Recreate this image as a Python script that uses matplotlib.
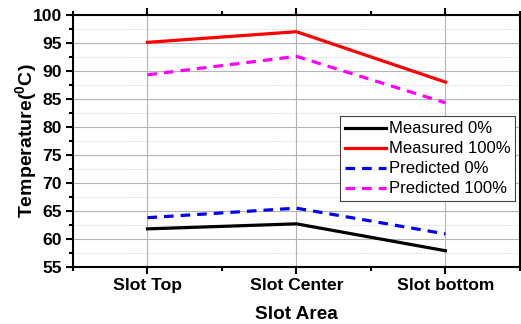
import matplotlib
matplotlib.use("Agg")
from matplotlib import pyplot as plt
from matplotlib.ticker import MultipleLocator

plt.rcParams['font.family'] = ['Liberation Sans', 'DejaVu Sans']
plt.rcParams['mathtext.fontset'] = 'custom'
plt.rcParams['mathtext.bf'] = 'Liberation Sans:bold'
plt.rcParams['mathtext.rm'] = 'Liberation Sans:bold'

# data
areas = ['Slot Top', 'Slot Center', 'Slot bottom']
measured_0 = [61.8, 62.7, 57.9]
measured_100 = [95.1, 97.0, 88.0]
predicted_0 = [63.8, 65.5, 60.9]
predicted_100 = [89.3, 92.6, 84.3]

fig = plt.figure(figsize=(5.21, 3.24), dpi=100)
ax = fig.add_axes([0.140, 0.176, 0.858, 0.778])

x = range(len(areas))
ax.plot(x, measured_0, color='black', lw=2.3, label='Measured 0%')
ax.plot(x, measured_100, color='red', lw=2.3, label='Measured 100%')
ax.plot(x, predicted_0, color='blue', lw=2.3, ls=(0, (3, 2.2)), label='Predicted 0%')
ax.plot(x, predicted_100, color='magenta', lw=2.3, ls=(0, (3, 2.2)), label='Predicted 100%')

ax.set_xlim(-0.5, 2.5)
ax.set_ylim(55, 100)
ax.set_xticks(list(x))
ax.set_xticklabels(areas)
ax.xaxis.set_minor_locator(MultipleLocator(0.5))
ax.yaxis.set_major_locator(MultipleLocator(5))
ax.yaxis.set_minor_locator(MultipleLocator(2.5))

ax.grid(which='major', color='#b4b4b4', lw=0.8)
ax.grid(which='minor', axis='y', color='#cfcfcf', lw=0.7, ls=':')
ax.set_axisbelow(True)

ax.tick_params(which='both', direction='out', top=True, right=True, width=1.5)
ax.tick_params(which='major', length=5, labelsize=12.6, pad=3)
ax.tick_params(which='minor', length=3)
for lab in ax.get_xticklabels() + ax.get_yticklabels():
    lab.set_fontweight('bold')
for sp in ax.spines.values():
    sp.set_linewidth(1.5)

ax.set_xlabel('Slot Area', fontsize=13.7, fontweight='bold', labelpad=9)
ax.set_ylabel(r'Temperature($^{\mathbf{0}}$C)', fontsize=14, fontweight='bold', labelpad=-5)

leg = ax.legend(loc='upper right', bbox_to_anchor=(0.99, 0.597), fontsize=12,
                fancybox=False, edgecolor='#444444', borderaxespad=0,
                handlelength=2.5, handletextpad=0.15, borderpad=0.3,
                labelspacing=0.3, framealpha=1)
leg.get_frame().set_linewidth(0.8)

fig.savefig('out.png', dpi=100)
